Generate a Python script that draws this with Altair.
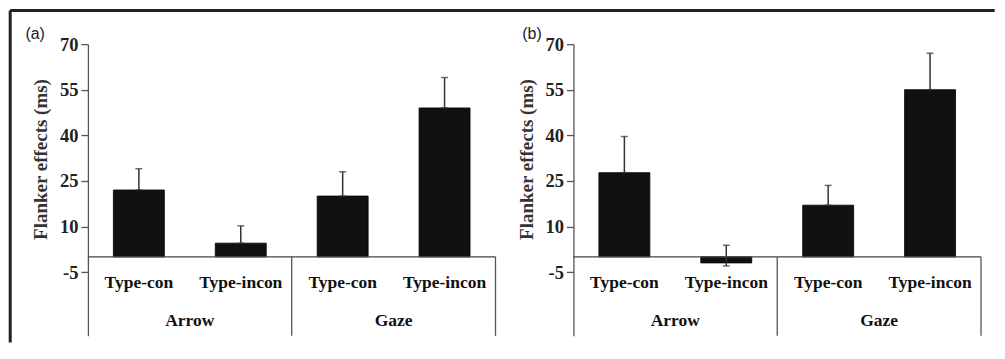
import altair as alt
import pandas as pd

# ---- data ----
groups = ["Arrow", "Arrow", "Gaze", "Gaze"]
conditions = ["Type-con", "Type-incon", "Type-con", "Type-incon"]
group_names = ["Arrow", "Gaze"]

a_means = [22, 4.5, 20, 49]
a_err_low = [22, 4.5, 20, 49]
a_err_high = [29, 10.2, 28, 59]

b_means = [27.7, -2, 17, 55]
b_err_low = [27.7, -3, 17, 55]
b_err_high = [39.6, 3.8, 23.5, 67]

y_ticks = [-5, 10, 25, 40, 55, 70]
y_domain = [-26, 70]

keys = [f"{g}|{c}" for g, c in zip(groups, conditions)]

W = 408
H = 292
SERIF = "Liberation Serif"


def panel(means, lo, hi, letter, letter_dx, border=False):
    df = pd.DataFrame({"key": keys, "group": groups, "cond": conditions,
                       "mean": means, "lo": lo, "hi": hi})
    gdf = pd.DataFrame({"group": group_names})
    one = pd.DataFrame({"v": [0], "t": [letter]})

    xs = alt.Scale(paddingInner=0.5, paddingOuter=0.25)
    x = alt.X("key:N", sort=keys, axis=None, scale=xs)
    ys = alt.Scale(domain=y_domain, nice=False, zero=False)
    gx = alt.Scale(domain=group_names, paddingInner=0, paddingOuter=0)
    yaxis = alt.Axis(
        values=y_ticks, title="Flanker effects (ms)", grid=False,
        labelExpr="'' + datum.value",
        titleFont=SERIF, titleFontSize=19, titleFontWeight="bold", titleColor="#333",
        titleAngle=270, titleX=-47, titleY=115, titleAlign="center", titleBaseline="middle",
        labelFont=SERIF, labelFontSize=18.5, labelFontWeight="bold", labelColor="#222",
        labelPadding=3, labelFlush=False, labelOverlap=False,
        tickSize=7, tickColor="#555", tickWidth=1.3,
        domainColor="#555", domainWidth=1.3)

    bars = alt.Chart(df).mark_bar(color="#111", stroke="#000", strokeWidth=0.8).encode(
        x=x,
        y=alt.Y("mean:Q", scale=ys, axis=yaxis),
        y2=alt.datum(0),
    )
    err = alt.Chart(df).mark_rule(color="#333", strokeWidth=1.5).encode(
        x=x, y=alt.Y("lo:Q", scale=ys, axis=yaxis), y2="hi:Q")
    cap_hi = alt.Chart(df).mark_tick(color="#333", thickness=1.5, size=7).encode(
        x=x, y=alt.Y("hi:Q", scale=ys, axis=yaxis))
    cap_lo = alt.Chart(df).mark_tick(color="#333", thickness=1.5, size=7).encode(
        x=x, y=alt.Y("lo:Q", scale=ys, axis=yaxis))

    baseline = alt.Chart(one).mark_rule(color="#444", strokeWidth=1.3).encode(
        y=alt.Y("v:Q", scale=ys, axis=yaxis), x=alt.value(0), x2=alt.value("width"))

    seps = alt.Chart(gdf).mark_rule(color="#555", strokeWidth=1.3).encode(
        x=alt.X("group:N", scale=gx, axis=None, bandPosition=1),
        y=alt.datum(0), y2=alt.value("height"))

    cond_text = alt.Chart(df).mark_text(
        font=SERIF, fontSize=17.5, fontWeight="bold", color="#111", baseline="alphabetic"
    ).encode(x=x, y=alt.value(243.7), text="cond:N")

    group_text = alt.Chart(gdf).mark_text(
        font=SERIF, fontSize=17.5, fontWeight="bold", color="#111", baseline="alphabetic"
    ).encode(x=alt.X("group:N", scale=gx, axis=None), y=alt.value(281.7), text="group:N")

    letter_text = alt.Chart(one).mark_text(
        font="Liberation Sans", fontSize=16, color="#222", align="center", baseline="alphabetic"
    ).encode(x=alt.value(letter_dx), y=alt.value(-4.8), text="t:N")

    layers = [bars, err, cap_hi, cap_lo, baseline, seps, cond_text, group_text, letter_text]

    if border:
        top_line = alt.Chart(one).mark_rule(color="#222", strokeWidth=3).encode(
            x=alt.value(-77.8), x2=alt.value(907.7), y=alt.value(-33.6))
        left_line = alt.Chart(one).mark_rule(color="#222", strokeWidth=3).encode(
            x=alt.value(-77.8), y=alt.value(-33.6), y2=alt.value(298.7))
        layers += [top_line, left_line]

    return alt.layer(*layers).resolve_scale(x="independent").properties(width=W, height=H)


pa = panel(a_means, a_err_low, a_err_high, "(a)", -52.8, border=True)
pb = panel(b_means, b_err_low, b_err_high, "(b)", -41.5)

chart = alt.hconcat(pa, pb, spacing=78, bounds="flush").properties(
    padding={"left": 0, "top": 0, "right": 0, "bottom": 0}
).configure_view(strokeWidth=0)

chart.save("out.html", embed_options={"renderer": "svg", "actions": False})
